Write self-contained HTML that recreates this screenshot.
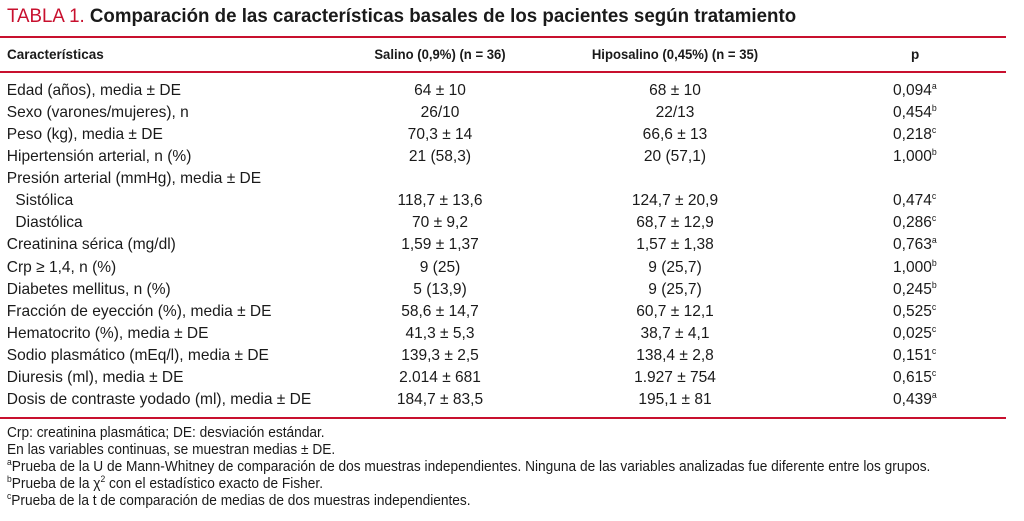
<!DOCTYPE html>
<html><head><meta charset="utf-8"><style>
body{margin:0;width:1024px;height:521px;background:#fff;position:relative;overflow:hidden;font-family:"Liberation Sans",sans-serif;color:#1a1a1a}
.a{position:absolute;white-space:nowrap}
.t{left:7px;top:6px;font-size:19px;font-weight:bold;transform:scaleX(0.985);transform-origin:left}
.t span{color:#c8102e;font-weight:normal}
.line{position:absolute;left:0;width:1006px;height:2px;background:#c8102e}
.h{font-weight:bold;font-size:13.5px;top:47px}
.r{font-size:16px;line-height:22px}
.l{transform:scaleX(0.97);transform-origin:left}
.c1{width:200px;left:340px;text-align:center;transform:scaleX(0.97)}
.c2{width:200px;left:575px;text-align:center;transform:scaleX(0.97)}
.c3{left:893px;transform:scaleX(0.97);transform-origin:left}
sup{font-size:9px;line-height:0;position:relative;top:-6px;vertical-align:baseline}
.f{font-size:14.5px;left:7px;line-height:17px;transform:scaleX(0.945);transform-origin:left}
</style></head><body>
<div class="a t"><span>TABLA 1.</span> Comparación de las características basales de los pacientes según tratamiento</div>
<div class="line" style="top:36px"></div>
<div class="a h" style="left:7px">Características</div>
<div class="a h c1">Salino (0,9%) (n = 36)</div>
<div class="a h c2">Hiposalino (0,45%) (n = 35)</div>
<div class="a h" style="left:911px">p</div>
<div class="line" style="top:71px"></div>
<div id="rows"></div>
<div class="line" style="top:417px"></div>
<div class="a f" style="top:425px">Crp: creatinina plasmática; DE: desviación estándar.</div>
<div class="a f" style="top:442px">En las variables continuas, se muestran medias ± DE.</div>
<div class="a f" style="top:459px"><sup>a</sup>Prueba de la U de Mann-Whitney de comparación de dos muestras independientes. Ninguna de las variables analizadas fue diferente entre los grupos.</div>
<div class="a f" style="top:476px"><sup>b</sup>Prueba de la χ<sup>2</sup> con el estadístico exacto de Fisher.</div>
<div class="a f" style="top:493px"><sup>c</sup>Prueba de la t de comparación de medias de dos muestras independientes.</div>
<script>
const labels=["Edad (años), media ± DE","Sexo (varones/mujeres), n","Peso (kg), media ± DE","Hipertensión arterial, n (%)","Presión arterial (mmHg), media ± DE","\u00a0\u00a0Sistólica","\u00a0\u00a0Diastólica","Creatinina sérica (mg/dl)","Crp ≥ 1,4, n (%)","Diabetes mellitus, n (%)","Fracción de eyección (%), media ± DE","Hematocrito (%), media ± DE","Sodio plasmático (mEq/l), media ± DE","Diuresis (ml), media ± DE","Dosis de contraste yodado (ml), media ± DE"];
const salino=["64 ± 10","26/10","70,3 ± 14","21 (58,3)","","118,7 ± 13,6","70 ± 9,2","1,59 ± 1,37","9 (25)","5 (13,9)","58,6 ± 14,7","41,3 ± 5,3","139,3 ± 2,5","2.014 ± 681","184,7 ± 83,5"];
const hipo=["68 ± 10","22/13","66,6 ± 13","20 (57,1)","","124,7 ± 20,9","68,7 ± 12,9","1,57 ± 1,38","9 (25,7)","9 (25,7)","60,7 ± 12,1","38,7 ± 4,1","138,4 ± 2,8","1.927 ± 754","195,1 ± 81"];
const pv=["0,094","0,454","0,218","1,000","","0,474","0,286","0,763","1,000","0,245","0,525","0,025","0,151","0,615","0,439"];
const pm=["a","b","c","b","","c","c","a","b","b","c","c","c","c","a"];
const host=document.getElementById('rows');
labels.forEach((l,i)=>{
 const y=80+i*22.07;
 const mk=(cls,html,name)=>{const d=document.createElement('div');d.className='a r '+cls;d.style.top=y+'px';d.innerHTML=html;
 
 
 host.appendChild(d);};
 mk('l','<span style="position:relative;left:7px">'+l+'</span>','row-label-'+i);
 if(salino[i])mk('c1',salino[i],'salino-value-'+i);
 if(hipo[i])mk('c2',hipo[i],'hiposalino-value-'+i);
 if(pv[i])mk('c3',pv[i]+'<sup>'+pm[i]+'</sup>','p-value-'+i);
});
</script>
</body></html>
